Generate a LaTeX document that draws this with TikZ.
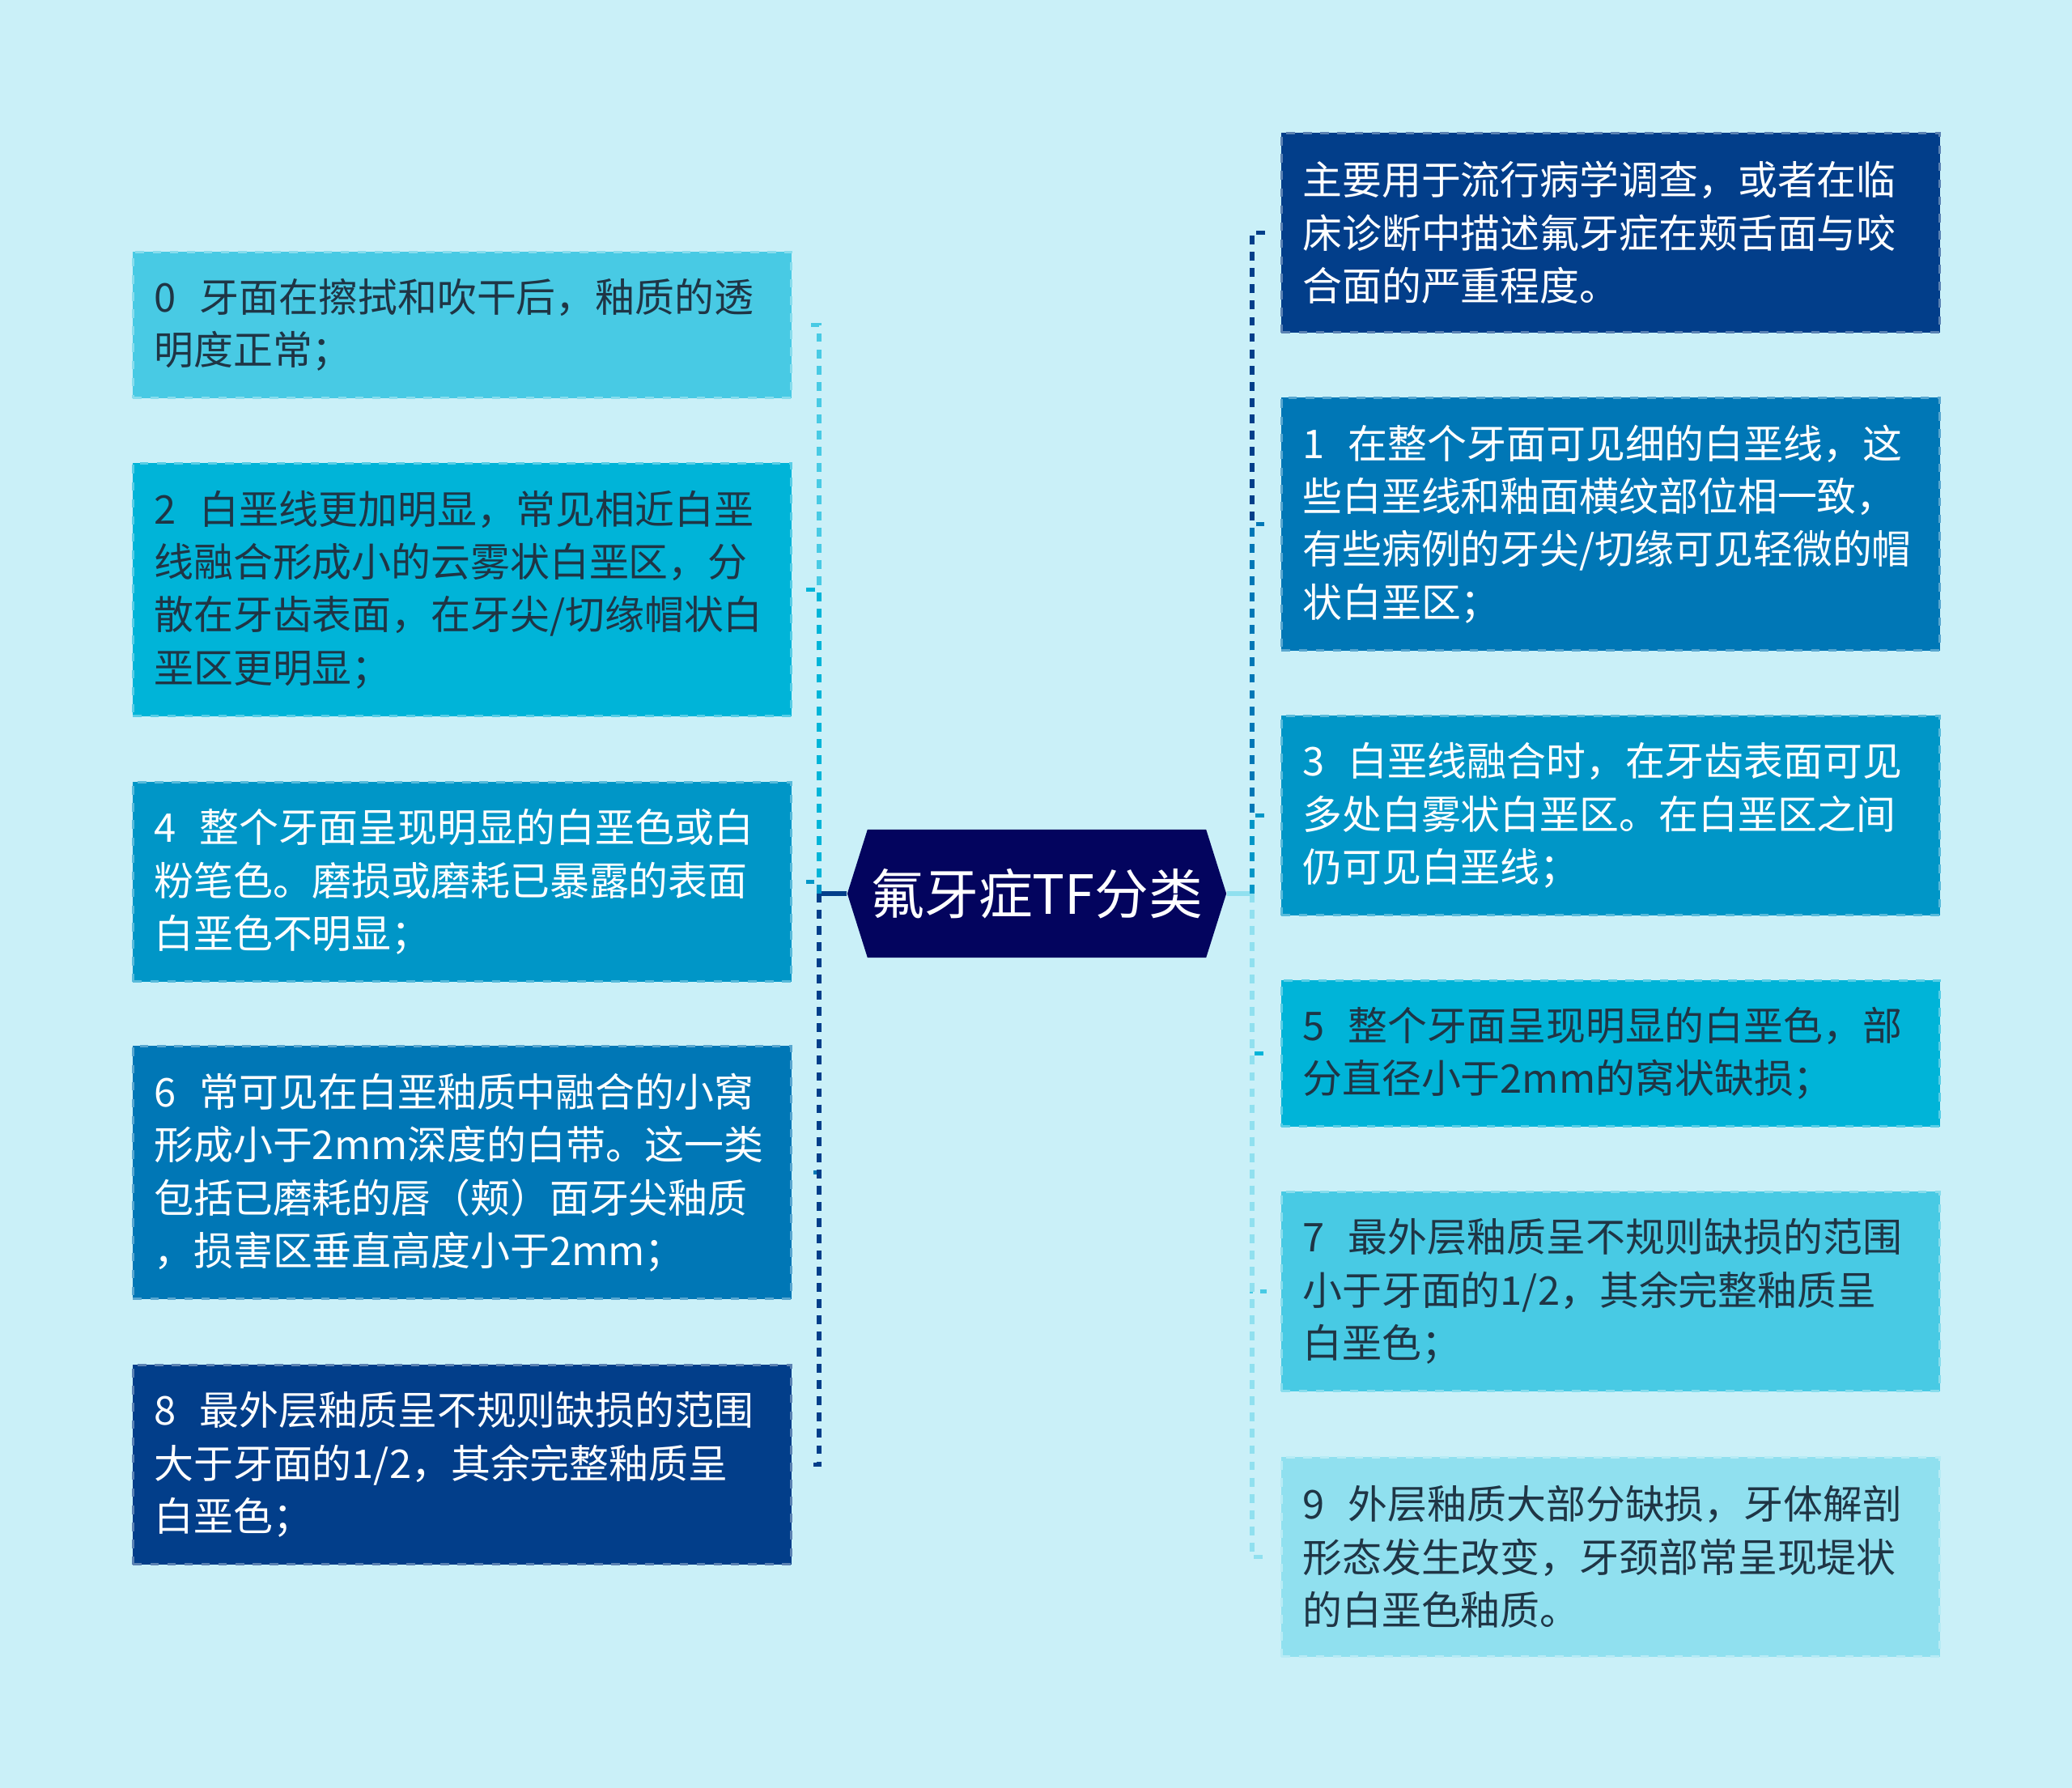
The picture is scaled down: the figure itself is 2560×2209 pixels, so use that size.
\documentclass[tikz,border=0pt]{standalone}
\usepackage{fontspec}
\setmainfont{Noto Sans CJK SC}
\usepackage{tikz}
\usetikzlibrary{shapes.symbols}
\definecolor{bgc}{HTML}{CAF0F8}
\definecolor{ca}{HTML}{90E0EF}
\definecolor{cb}{HTML}{48CAE4}
\definecolor{cc}{HTML}{00B4D8}
\definecolor{cd}{HTML}{0096C7}
\definecolor{ce}{HTML}{0077B6}
\definecolor{cf}{HTML}{023E8A}
\definecolor{cg}{HTML}{03045E}
\definecolor{txt}{HTML}{1F3545}
\tikzset{
  box/.style={draw=#1!65!white, fill=#1, dashed, line width=0.8pt, anchor=north west,
    minimum width=8.13cm, text width=7.61cm, inner xsep=0.26cm, inner ysep=0pt,
    align=left, font=\fontsize{13.9}{18.6}\selectfont},
  two/.style={minimum height=1.8cm},
  three/.style={minimum height=2.46cm},
  four/.style={minimum height=3.12cm},
  link/.style={draw=#1, line width=1.6pt, dash pattern=on 3.1pt off 2.6pt, shorten >=0.17cm},
  stem/.style={draw=#1, line width=1.6pt},
}

\begin{document}
\begin{tikzpicture}[x = 0.01cm, y = -0.01cm]
\useasboundingbox[fill=bgc] (0, 0) rectangle (2560, 2209);

\node[signal, signal to=west and east, signal pointer angle=145, fill=cg, text=white,
  minimum width=4.68cm, minimum height=1.58cm, inner sep=0pt,
  font=\fontsize{19}{22}\selectfont] (T) at (1281, 1104) {氟牙症TF分类};

% left
\node[box=cb, two, text=txt] (N0) at (163, 310) {0\hspace{0.6em}牙面在擦拭和吹干后，釉质的透\\明度正常；};
\node[box=cc, four, text=txt] (N2) at (163, 571) {2\hspace{0.6em}白垩线更加明显，常见相近白垩\\线融合形成小的云雾状白垩区，分\\散在牙齿表面，在牙尖/切缘帽状白\\垩区更明显；};
\node[box=cd, three, text=white] (N4) at (163, 965) {4\hspace{0.6em}整个牙面呈现明显的白垩色或白\\粉笔色。磨损或磨耗已暴露的表面\\白垩色不明显；};
\node[box=ce, four, text=white] (N6) at (163, 1291) {6\hspace{0.6em}常可见在白垩釉质中融合的小窝\\形成小于2mm深度的白带。这一类\\包括已磨耗的唇（颊）面牙尖釉质\\，损害区垂直高度小于2mm；};
\node[box=cf, three, text=white] (N8) at (163, 1685) {8\hspace{0.6em}最外层釉质呈不规则缺损的范围\\大于牙面的1/2，其余完整釉质呈\\白垩色；};

% right
\node[box=cf, three, text=white] (M) at (1582, 163) {主要用于流行病学调查，或者在临\\床诊断中描述氟牙症在颊舌面与咬\\合面的严重程度。};
\node[box=ce, four, text=white] (N1) at (1582, 490) {1\hspace{0.6em}在整个牙面可见细的白垩线，这\\些白垩线和釉面横纹部位相一致，\\有些病例的牙尖/切缘可见轻微的帽\\状白垩区；};
\node[box=cd, three, text=white] (N3) at (1582, 883) {3\hspace{0.6em}白垩线融合时，在牙齿表面可见\\多处白雾状白垩区。在白垩区之间\\仍可见白垩线；};
\node[box=cc, two, text=txt] (N5) at (1582, 1210) {5\hspace{0.6em}整个牙面呈现明显的白垩色，部\\分直径小于2mm的窝状缺损；};
\node[box=cb, three, text=txt] (N7) at (1582, 1471) {7\hspace{0.6em}最外层釉质呈不规则缺损的范围\\小于牙面的1/2，其余完整釉质呈\\白垩色；};
\node[box=ca, three, text=txt] (N9) at (1582, 1799) {9\hspace{0.6em}外层釉质大部分缺损，牙体解剖\\形态发生改变，牙颈部常呈现堤状\\的白垩色釉质。};

\coordinate (cl) at (1012, 1104);
\coordinate (cr) at (1547, 1104);

\draw[stem=cf] (T.west) -- (cl);
\draw[link=cb] (cl) |- (N0.east);
\draw[link=cc] (cl) |- (N2.east);
\draw[link=cd] (cl) |- (N4.east);
\draw[link=ce] (cl) |- (N6.east);
\draw[link=cf] (cl) |- (N8.east);

\draw[stem=ca] (T.east) -- (cr);
\draw[link=cf] (cr) |- (M.west);
\draw[link=ce] (cr) |- (N1.west);
\draw[link=cd] (cr) |- (N3.west);
\draw[link=cc] (cr) |- (N5.west);
\draw[link=cb] (cr) |- (N7.west);
\draw[link=ca] (cr) |- (N9.west);

\end{tikzpicture}
\end{document}
